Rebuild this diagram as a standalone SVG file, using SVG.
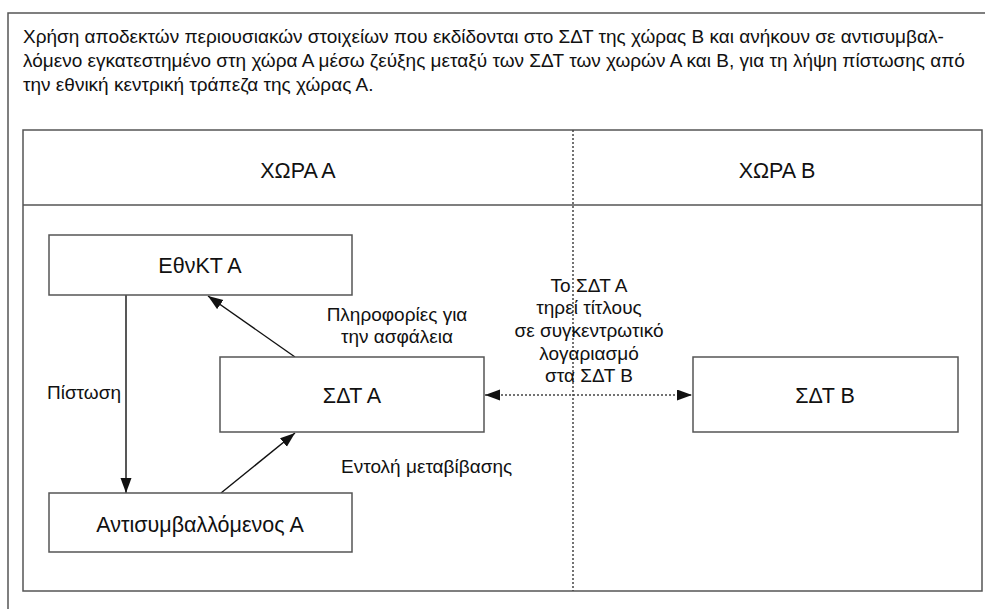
<svg xmlns="http://www.w3.org/2000/svg" width="985" height="609" viewBox="0 0 985 609">
<style>
  text { font-family: "Liberation Sans", Arial, sans-serif; fill: #111; }
  .title { font-size: 19px; }
  .lbl { font-size: 19px; }
  .nd { font-size: 21.5px; }
  .c { text-anchor: middle; }
  .box { fill: #fff; stroke: #555; stroke-width: 1.5; }
  .frame { fill: none; stroke: #555; stroke-width: 1.5; }
  .arr { fill: none; stroke: #111; stroke-width: 1.4; }
  .dot { fill: none; stroke: #444; stroke-width: 1.5; stroke-dasharray: 2 2; }
</style>
<defs>
  <marker id="ah" markerUnits="userSpaceOnUse" markerWidth="16" markerHeight="12" refX="15" refY="5.5" orient="auto-start-reverse">
    <path d="M0,0 L15,5.5 L0,11 z" fill="#111"/>
  </marker>
</defs>
<rect width="985" height="609" fill="#fff"/>
<g id="outer-frame">
  <path class="frame" d="M8,609 L8,13 L985,13"/>
</g>
<g id="title">
  <text class="title" x="23" y="43">Χρήση αποδεκτών περιουσιακών στοιχείων που εκδίδονται στο ΣΔΤ της χώρας Β και ανήκουν σε αντισυμβαλ-</text>
  <text class="title" x="23" y="67">λόμενο εγκατεστημένο στη χώρα Α μέσω ζεύξης μεταξύ των ΣΔΤ των χωρών Α και Β, για τη λήψη πίστωσης από</text>
  <text class="title" x="23" y="91">την εθνική κεντρική τράπεζα της χώρας Α.</text>
</g>
<g id="panel">
  <rect class="frame" x="23" y="130" width="959" height="461"/>
  <line class="frame" x1="23" y1="205" x2="982" y2="205"/>
  <line class="dot" x1="573" y1="130" x2="573" y2="591"/>
  <text class="nd c" x="298" y="178">ΧΩΡΑ Α</text>
  <text class="nd c" x="777" y="178">ΧΩΡΑ Β</text>
</g>
<g id="connectors">
  <line class="arr" x1="126" y1="295" x2="126" y2="493" marker-end="url(#ah)"/>
  <line class="arr" x1="295" y1="357" x2="208" y2="296" marker-end="url(#ah)"/>
  <line class="arr" x1="221" y1="493" x2="295" y2="433" marker-end="url(#ah)"/>
  <line class="dot" x1="485" y1="395" x2="692" y2="395" stroke="#111" marker-start="url(#ah)" marker-end="url(#ah)"/>
  <text class="lbl" x="121" y="399" text-anchor="end">Πίστωση</text>
  <text class="lbl c" x="397" y="321">Πληροφορίες για</text>
  <text class="lbl c" x="397" y="343">την ασφάλεια</text>
  <text class="lbl" x="341" y="473">Εντολή μεταβίβασης</text>
  <text class="lbl c" x="589" y="292">Το ΣΔΤ Α</text>
  <text class="lbl c" x="589" y="314">τηρεί τίτλους</text>
  <text class="lbl c" x="589" y="337">σε συγκεντρωτικό</text>
  <text class="lbl c" x="589" y="360">λογαριασμό</text>
  <text class="lbl c" x="589" y="382">στα ΣΔΤ Β</text>
</g>
<g id="node-ethnkt-a">
  <rect class="box" x="49" y="235" width="303" height="60"/>
  <text class="nd c" x="200" y="273">ΕθνΚΤ Α</text>
</g>
<g id="node-sdt-a">
  <rect class="box" x="220" y="357" width="264" height="75"/>
  <text class="nd c" x="352" y="403">ΣΔΤ Α</text>
</g>
<g id="node-sdt-b">
  <rect class="box" x="693" y="357" width="265" height="75"/>
  <text class="nd c" x="825" y="403">ΣΔΤ Β</text>
</g>
<g id="node-antisymv-a">
  <rect class="box" x="49" y="493" width="303" height="59"/>
  <text class="nd c" x="200" y="532">Αντισυμβαλλόμενος Α</text>
</g>
</svg>
